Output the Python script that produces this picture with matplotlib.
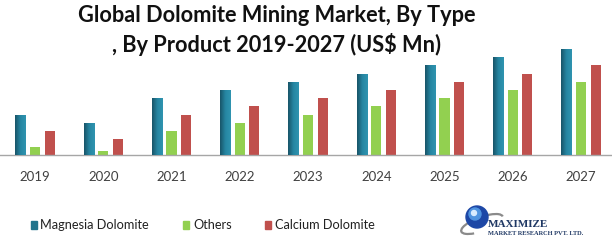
import numpy as np
import matplotlib.pyplot as plt
from matplotlib.patches import Circle, Rectangle, Arc
from matplotlib.colors import LinearSegmentedColormap

years = ["2019", "2020", "2021", "2022", "2023", "2024", "2025", "2026", "2027"]
magnesia = [40, 32, 57, 65, 73, 81, 90, 98, 106]
others = [8, 4, 24, 32, 40, 49, 57, 65, 73]
calcium = [24, 16, 40, 49, 57, 65, 73, 81, 90]

W, H = 612, 243
fig = plt.figure(figsize=(W / 100, H / 100), dpi=100)
fig.patch.set_facecolor("white")

def fx(px):
    return px / W

def fy(py):
    return 1 - py / H

# axes: baseline at y=155, top at y=40
ax = fig.add_axes([0, fy(155.3), 1, fy(40) - fy(155.3)])

x = np.arange(len(years))
w = 0.147
step = 0.213
teal = "#22748c"
green = "#92d050"
red = "#c0504d"

b1 = ax.bar(x - step, magnesia, w, color=teal, zorder=2)
ax.bar(x, others, w, color=green, zorder=2)
ax.bar(x + step, calcium, w, color=red, zorder=2)

# horizontal shading on the teal bars
cmap = LinearSegmentedColormap.from_list("tl", ["#185468", "#2686a2", "#2f94b0"])
grad = np.linspace(0, 1, 64).reshape(1, -1)
for bar in b1:
    x0, h = bar.get_x(), bar.get_height()
    im = ax.imshow(grad, cmap=cmap, aspect="auto", zorder=3,
                   extent=[x0, x0 + bar.get_width(), 0, h])
    im.set_clip_path(bar)
ax.set_xlim(-0.513, 8.454)
ax.set_ylim(0, 115.3)

for s in ["top", "right", "left"]:
    ax.spines[s].set_visible(False)
ax.spines["bottom"].set_color("#a6a6a6")
ax.spines["bottom"].set_linewidth(1.0)
ax.set_yticks([])
ax.set_xticks(x)
ax.set_xticklabels(years, fontsize=9.5, color="#404040", family="Lato")
ax.tick_params(axis="x", length=0, pad=11)

fig.text(fx(277), fy(15), "Global Dolomite Mining Market, By Type",
         ha="center", va="center", fontsize=15.7, fontweight="bold",
         family="Lato", color="#111111")
fig.text(fx(277), fy(44), ", By Product 2019-2027 (US$ Mn)",
         ha="center", va="center", fontsize=15.7, fontweight="bold",
         family="Lato", color="#111111")

# legend
items = [("Magnesia Dolomite", teal, 30.5), ("Others", green, 183), ("Calcium Dolomite", red, 265)]
for label, c, px in items:
    fig.patches.append(Rectangle((fx(px), fy(229)), fx(6), 8 / H, color=c,
                                 transform=fig.transFigure, figure=fig))
    fig.text(fx(px + 10), fy(225), label, ha="left", va="center",
             fontsize=9.2, color="#222222", family="Lato")

# logo
lax = fig.add_axes([fx(455), fy(243), fx(145), 43 / H])
lax.set_xlim(455, 600)
lax.set_ylim(243, 200)
lax.axis("off")
lax.add_patch(Arc((482, 224), 44, 14, angle=-20, theta1=150, theta2=360,
                  color="#8a8a8a", lw=1.6))
lax.add_patch(Circle((477, 217), 11, color="#1d47a6"))
lax.add_patch(Circle((475, 214), 6, color="#4f94e0"))
lax.add_patch(Circle((474, 213), 2.5, color="#d8ecff"))
lax.text(488, 224, "MAXIMIZE", fontsize=8, fontweight="bold",
         family="Liberation Serif", color="#1f3864", ha="left", va="center")
lax.text(488, 233.5, "MARKET RESEARCH PVT. LTD.", fontsize=4.6, fontweight="bold",
         family="Liberation Serif", color="#1f3864", ha="left", va="center")

fig.savefig("out.png", dpi=100)
